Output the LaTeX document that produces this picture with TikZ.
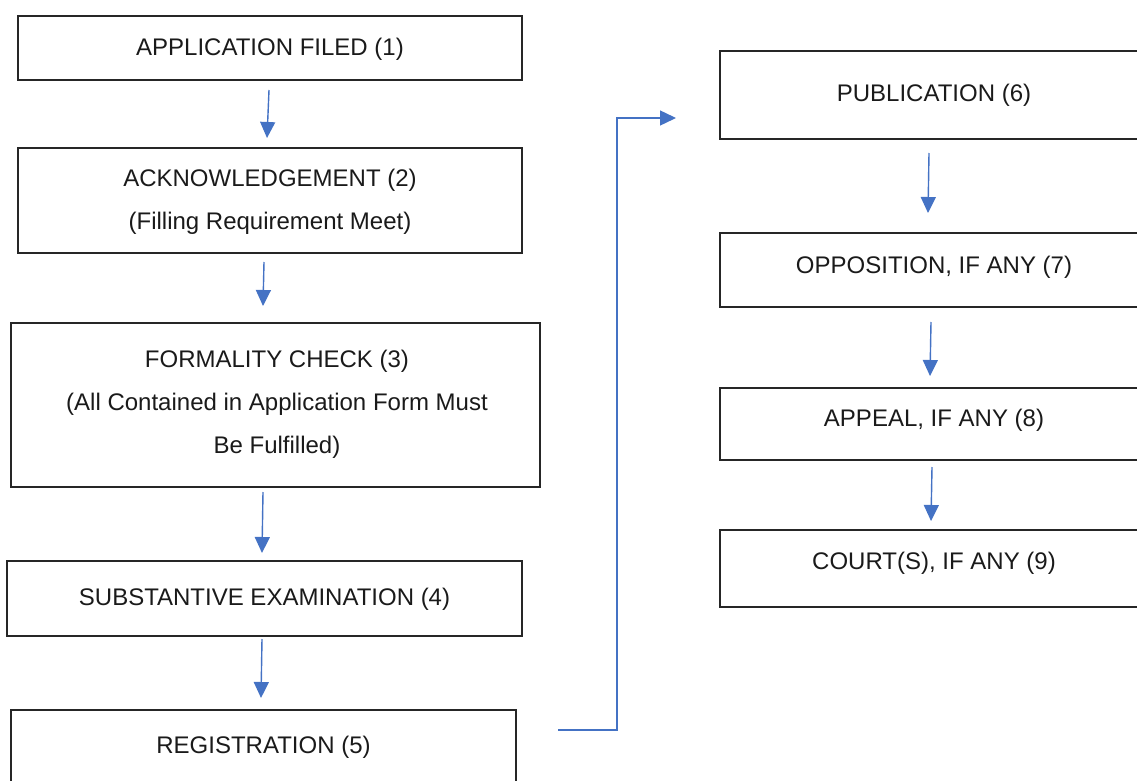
\documentclass[tikz,border=0pt]{standalone}
\usepackage{fontspec}
\setmainfont{Liberation Sans}
\usetikzlibrary{arrows.meta,calc}
\definecolor{flowblue}{HTML}{4472C4}
\definecolor{edgegray}{HTML}{262626}
\definecolor{inkblack}{HTML}{1A1A1A}
\begin{document}
\begin{tikzpicture}[x=1pt,y=-1pt,
  stage/.style={draw=edgegray, line width=1.3pt, rectangle, anchor=north west,
    inner sep=0pt, outer sep=0pt},
  stagetext/.style={font=\fontsize{24}{43}\selectfont, text=inkblack,
    align=center, inner sep=0pt},
  flow/.style={draw=flowblue, line width=1.4pt,
    -{Triangle[length=16pt,width=15pt]}},
]
\useasboundingbox (0,0) rectangle (1137,781);
\clip (0,0) rectangle (1137,781);

% left column of stages
\node[stage, minimum width=504pt, minimum height=64pt]  (b1) at (18,16)  {};
\node[stage, minimum width=504pt, minimum height=105pt] (b2) at (18,148) {};
\node[stage, minimum width=529pt, minimum height=164pt] (b3) at (11,323) {};
\node[stage, minimum width=515pt, minimum height=75pt]  (b4) at (7,561)  {};
\node[stage, minimum width=505pt, minimum height=90pt]  (b5) at (11,710) {};

% right column of stages
\node[stage, minimum width=428pt, minimum height=88pt] (b6) at (720,51)  {};
\node[stage, minimum width=428pt, minimum height=74pt] (b7) at (720,233) {};
\node[stage, minimum width=428pt, minimum height=72pt] (b8) at (720,388) {};
\node[stage, minimum width=428pt, minimum height=77pt] (b9) at (720,530) {};

% stage texts
\node[stagetext, anchor=base] (t1) at (270,56) {APPLICATION FILED (1)};
\node[stagetext] (t2) at (270,202) {ACKNOWLEDGEMENT (2)\\(Filling Requirement Meet)};
\node[stagetext] (t3) at (277,404) {FORMALITY CHECK (3)\\(All Contained in Application Form Must\\Be Fulfilled)};
\node[stagetext, anchor=base] (t4) at (264.5,605) {SUBSTANTIVE EXAMINATION (4)};
\node[stagetext, anchor=base] (t5) at (263.5,753) {REGISTRATION (5)};
\node[stagetext, anchor=base] (t6) at (934,102) {PUBLICATION (6)};
\node[stagetext, anchor=base] (t7) at (934,273) {OPPOSITION, IF ANY (7)};
\node[stagetext, anchor=base] (t8) at (934,426) {APPEAL, IF ANY (8)};
\node[stagetext, anchor=base] (t9) at (934,569) {COURT(S), IF ANY (9)};

% downward flow arrows
\draw[flow] ($(b1.south)+(-1,10)$)    -- ($(b2.north)+(-3,-10)$);
\draw[flow] ($(b2.south)+(-6,9)$)     -- ($(b3.north)+(-12.5,-17)$);
\draw[flow] ($(b3.south)+(-12.5,5)$)  -- ($(b4.north)+(-2.5,-8)$);
\draw[flow] ($(b4.south)+(-2.5,3)$)   -- ($(b5.north)+(-2.5,-12)$);
\draw[flow] ($(b6.south)+(-5,14)$)    -- ($(b7.north)+(-6,-20)$);
\draw[flow] ($(b7.south)+(-3,15)$)    -- ($(b8.north)+(-4,-12)$);
\draw[flow] ($(b8.south)+(-2,7)$)     -- ($(b9.north)+(-3,-9)$);

% jump from registration to publication
\coordinate (regout) at (558,730);
\coordinate (pubin) at (676,118);
\draw[flow] (regout) -- ++(59,0) |- (pubin);
\end{tikzpicture}
\end{document}
